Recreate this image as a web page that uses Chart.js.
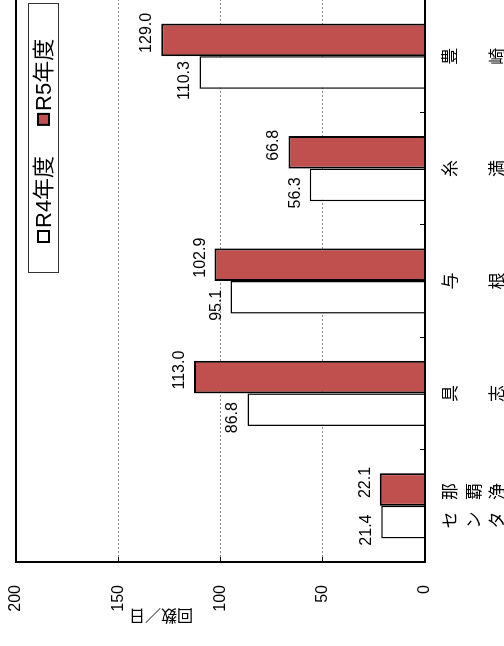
<!DOCTYPE html>
<html lang="ja">
<head>
<meta charset="utf-8">
<title>回数/日</title>
<script src="https://cdn.jsdelivr.net/npm/chart.js@4.4.1/dist/chart.umd.min.js"></script>
<style>
html, body { margin: 0; padding: 0; background: #fff; overflow: hidden; }
/* the chart is laid out landscape and turned a quarter turn to the left */
#wrap {
  position: absolute; left: 0; top: 0;
  width: 646px; height: 504px;
  transform-origin: 0 0;
  transform: translateY(646px) rotate(-90deg);
}
</style>
</head>
<body>
<div id="wrap"><canvas id="chart" width="646" height="504"></canvas></div>
<script>
// 処理場ごとの回数/日
const categories = [
  ['セ   那', 'ン   覇', 'タ   浄'],
  ['具', '', '志'],
  ['与', '', '根'],
  ['糸', '', '満'],
  ['豊', '', '崎']
];
const seriesNames = ['R4年度', 'R5年度'];
const r4Values = [21.4, 86.8, 95.1, 56.3, 110.3];
const r5Values = [22.1, 113.0, 102.9, 66.8, 129.0];
const yTicks = [0, 50, 100, 150, 200];
const yTitle = '回数／日';

const LATIN = '"Liberation Sans", "Noto Sans CJK JP", sans-serif';
const CJK = '"Noto Sans CJK JP", sans-serif';

// 棒の上に数値
const valueLabels = {
  id: 'valueLabels',
  afterDatasetsDraw(chart) {
    const ctx = chart.ctx;
    ctx.save();
    ctx.font = '16px ' + LATIN;
    ctx.fillStyle = '#000';
    ctx.textAlign = 'center';
    ctx.textBaseline = 'alphabetic';
    chart.data.datasets.forEach((ds, i) => {
      const shift = i === 0 ? -8 : 7;
      chart.getDatasetMeta(i).data.forEach((bar, j) => {
        ctx.fillText(ds.data[j].toFixed(1), bar.x + shift, bar.y - 10);
      });
    });
    ctx.restore();
  }
};

// プロットエリア上端の枠線
const plotFrame = {
  id: 'plotFrame',
  afterDatasetsDraw(chart) {
    const { ctx, chartArea: a } = chart;
    ctx.save();
    ctx.strokeStyle = '#000';
    ctx.lineWidth = 2;
    ctx.beginPath();
    ctx.moveTo(a.left, a.top);
    ctx.lineTo(a.right, a.top);
    ctx.stroke();
    ctx.restore();
  }
};

// 枠付き凡例（右上）
const boxLegend = {
  id: 'boxLegend',
  afterDraw(chart) {
    const { ctx, chartArea } = chart;
    const w = 270, h = 31;
    const x0 = chartArea.right - 3 - w;
    const y0 = chartArea.top + 12;
    ctx.save();
    ctx.fillStyle = '#fff';
    ctx.fillRect(x0, y0, w, h);
    ctx.strokeStyle = '#333';
    ctx.lineWidth = 1;
    ctx.strokeRect(x0 + 0.5, y0 + 0.5, w - 1, h - 1);
    ctx.font = '22px ' + LATIN;
    ctx.textBaseline = 'middle';
    ctx.textAlign = 'left';
    const cy = y0 + h / 2;
    let x = x0 + 31;
    chart.data.datasets.forEach(ds => {
      ctx.fillStyle = ds.backgroundColor;
      ctx.fillRect(x, cy - 5.5, 11, 11);
      ctx.strokeStyle = '#000';
      ctx.lineWidth = 2;
      ctx.strokeRect(x, cy - 5.5, 11, 11);
      ctx.fillStyle = '#000';
      ctx.fillText(ds.label, x + 14, cy + 1);
      x += 14 + ctx.measureText(ds.label).width + 31;
    });
    ctx.restore();
  }
};

// 縦軸タイトル
const axisTitle = {
  id: 'axisTitle',
  afterDraw(chart) {
    const { ctx, chartArea } = chart;
    ctx.save();
    ctx.translate(30, chartArea.top + 145);
    ctx.rotate(-Math.PI / 2);
    ctx.font = '16px ' + CJK;
    ctx.fillStyle = '#000';
    ctx.textAlign = 'center';
    ctx.textBaseline = 'middle';
    ctx.fillText(yTitle, 0, 0);
    ctx.restore();
  }
};

new Chart(document.getElementById('chart'), {
  type: 'bar',
  data: {
    labels: categories,
    datasets: [
      {
        label: seriesNames[0],
        data: r4Values,
        backgroundColor: '#ffffff',
        borderColor: '#000',
        borderWidth: 1.5
      },
      {
        label: seriesNames[1],
        data: r5Values,
        backgroundColor: '#c0504d',
        borderColor: '#000',
        borderWidth: 2
      }
    ]
  },
  plugins: [valueLabels, plotFrame, boxLegend, axisTitle],
  options: {
    responsive: false,
    devicePixelRatio: 1,
    animation: false,
    categoryPercentage: 0.58,
    barPercentage: 1.0,
    layout: { padding: { top: 16, left: 0, right: 0, bottom: 0 } },
    plugins: {
      legend: { display: false },
      tooltip: { enabled: false }
    },
    scales: {
      x: {
        grid: {
          offset: true,
          drawOnChartArea: false,
          drawTicks: true,
          tickLength: -5,
          tickColor: '#000',
          tickWidth: 1
        },
        border: { color: '#000', width: 2, z: 1 },
        ticks: {
          color: '#000',
          padding: 18,
          maxRotation: 0,
          autoSkip: false,
          font: { family: CJK, size: 17, lineHeight: '23.5px' }
        },
        afterFit: s => {
          s.height = 79;
          s.paddingLeft = 0;
          s.paddingRight = 0;
        }
      },
      y: {
        min: yTicks[0],
        max: yTicks[yTicks.length - 1],
        afterBuildTicks: s => { s.ticks = yTicks.map(v => ({ value: v })); },
        grid: {
          color: c => (c.tick && (c.tick.value === 0 || c.tick.value === 200)) ? 'rgba(0,0,0,0)' : '#8c8c8c',
          lineWidth: 1,
          drawTicks: true,
          tickLength: -5,
          tickColor: '#000'
        },
        border: { color: '#000', width: 2, dash: [2, 2], z: 1 },
        ticks: {
          color: '#000',
          padding: 28,
          font: { family: LATIN, size: 16 }
        },
        afterFit: s => {
          s.width = 84;
          s.paddingTop = 0;
          s.paddingBottom = 0;
        }
      }
    }
  }
});
</script>
</body>
</html>
